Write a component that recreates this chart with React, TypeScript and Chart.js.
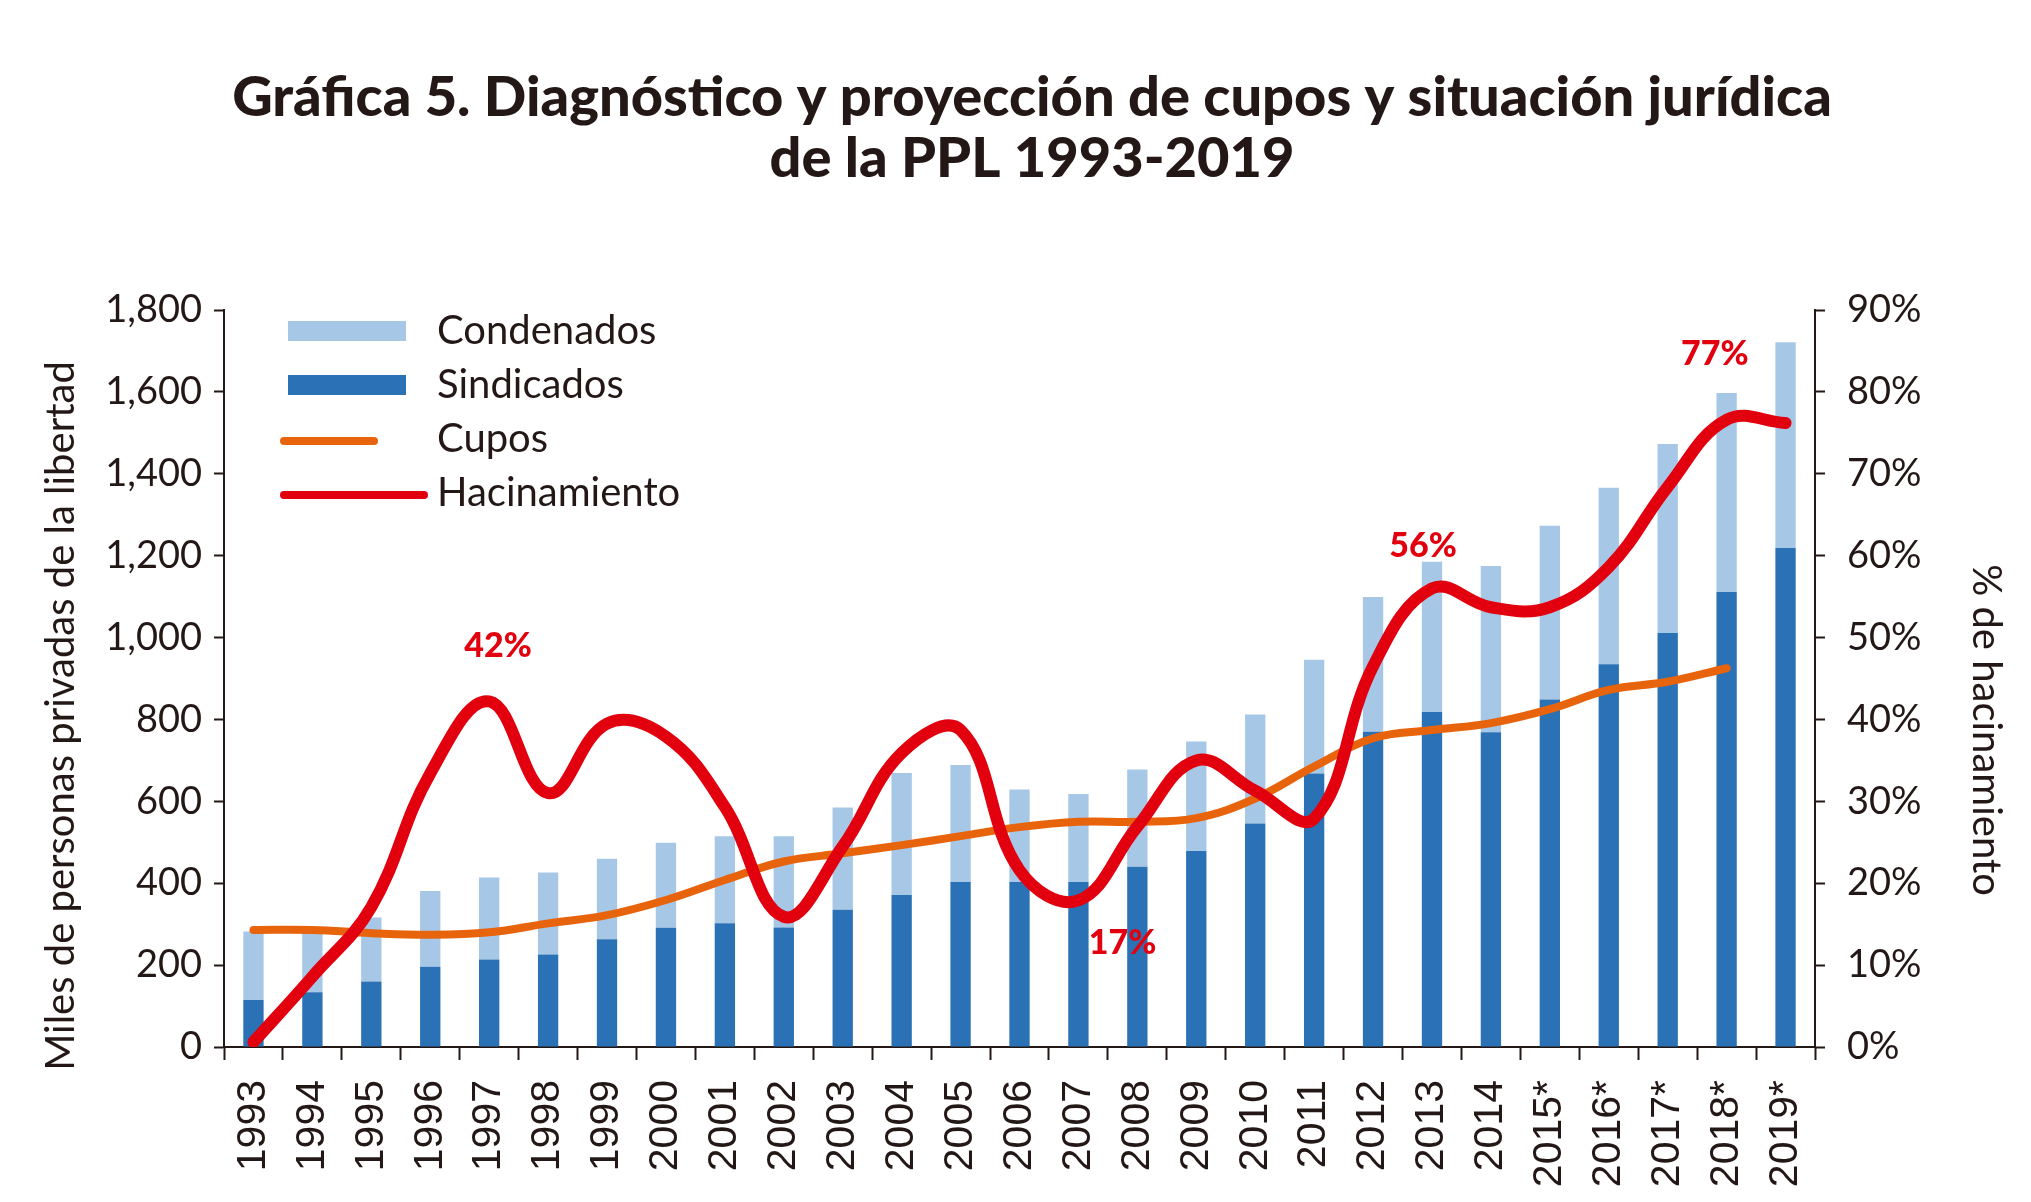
import React, { useEffect, useRef } from "react";
import { Chart, registerables } from "chart.js";
Chart.register(...registerables);

const years = [
  "1993", "1994", "1995", "1996", "1997", "1998", "1999", "2000", "2001", "2002",
  "2003", "2004", "2005", "2006", "2007", "2008", "2009", "2010", "2011", "2012",
  "2013", "2014", "2015*", "2016*", "2017*", "2018*", "2019*",
];
const sindicados = [
  115, 134, 160, 196, 214, 226, 263, 291, 302, 292,
  335, 371, 403, 403, 403, 440, 479, 546, 668, 770,
  818, 769, 849, 935, 1011, 1111, 1219,
];
const condenados = [
  167, 156, 156, 185, 200, 200, 197, 208, 213, 223,
  250, 298, 286, 226, 215, 238, 267, 266, 278, 329,
  367, 406, 424, 431, 462, 486, 502,
];
const cupos = [
  286, 286, 278, 274, 280, 302, 322, 359, 408, 453,
  473, 493, 515, 537, 550, 550, 559, 607, 685, 754,
  774, 791, 825, 872, 892, 925, null,
];
const hacinamiento = [
  0.6, 8.6, 17.1, 33.4, 42.2, 31, 39.5, 37.9, 29.3, 15.9,
  24.5, 35.9, 38.7, 21.6, 17.9, 26.9, 35, 31.3, 27.9, 46.5,
  56, 53.7, 53.7, 58.6, 68.4, 76.6, 76.2,
];

const titleLines = [
  "Gráfica 5. Diagnóstico y proyección de cupos y situación jurídica",
  "de la PPL 1993-2019",
];
const legendLabels = ["Condenados", "Sindicados", "Cupos", "Hacinamiento"];
const calloutTexts = ["42%", "56%", "17%", "77%"];
const calloutIndex = [4.15, 19.85, 14.75, 24.8];
const calloutValue = [49, 61.2, 12.7, 84.6];

const leftTitle = "Miles de personas privadas de la libertad";
const rightTitle = "% de hacinamiento";

const TEXT = "#231815";
const LIGHT = "#a7c7e7";
const DARK = "#2a72b5";
const ORANGE = "#e8640c";
const RED = "#e2000f";
const FONT = "Lato";

const overlayPlugin = {
  id: "overlay",
  afterDatasetsDraw(chart: any) {
    const ctx = chart.ctx;
    const x = chart.scales.x;
    const y1 = chart.scales.y1;
    ctx.save();
    ctx.fillStyle = RED;
    ctx.font = `900 34px ${FONT}`;
    ctx.textAlign = "center";
    ctx.textBaseline = "middle";
    calloutTexts.forEach((t, i) => {
      ctx.fillText(t, x.getPixelForValue(calloutIndex[i]), y1.getPixelForValue(calloutValue[i]));
    });
    ctx.restore();
  },
  afterDraw(chart: any) {
    const ctx = chart.ctx;
    ctx.save();
    // title
    ctx.fillStyle = TEXT;
    ctx.font = `900 56px ${FONT}`;
    ctx.textAlign = "center";
    ctx.textBaseline = "middle";
    ctx.fillText(titleLines[0], 1032, 98);
    ctx.fillText(titleLines[1], 1032, 159);
    // axis titles
    ctx.font = `40px ${FONT}`;
    ctx.save();
    ctx.translate(61, 716);
    ctx.rotate(-Math.PI / 2);
    ctx.fillText(leftTitle, 0, 0);
    ctx.restore();
    ctx.save();
    ctx.translate(1986, 730);
    ctx.rotate(Math.PI / 2);
    ctx.fillText(rightTitle, 0, 0);
    ctx.restore();
    // legend
    const rows = [331, 385, 439, 493];
    ctx.fillStyle = LIGHT;
    ctx.fillRect(288, rows[0] - 10, 118, 20);
    ctx.fillStyle = DARK;
    ctx.fillRect(288, rows[1] - 10, 118, 20);
    ctx.lineCap = "round";
    ctx.lineWidth = 8;
    ctx.strokeStyle = ORANGE;
    ctx.beginPath();
    ctx.moveTo(284, rows[2] + 2);
    ctx.lineTo(374, rows[2] + 2);
    ctx.stroke();
    ctx.strokeStyle = RED;
    ctx.beginPath();
    ctx.moveTo(284, rows[3] + 2);
    ctx.lineTo(424, rows[3] + 2);
    ctx.stroke();
    ctx.fillStyle = TEXT;
    ctx.font = `40px ${FONT}`;
    ctx.textAlign = "left";
    ctx.textBaseline = "middle";
    legendLabels.forEach((l, i) => ctx.fillText(l, 437, rows[i]));
    ctx.restore();
  },
};

export default function App() {
  const ref = useRef<HTMLCanvasElement | null>(null);
  useEffect(() => {
    if (!ref.current) return;
    const chart = new Chart(ref.current, {
      type: "bar",
      data: {
        labels: years,
        datasets: [
          {
            type: "line",
            label: "Hacinamiento",
            data: hacinamiento,
            yAxisID: "y1",
            borderColor: RED,
            borderWidth: 12,
            pointRadius: 0,
            tension: 0.4,
            borderCapStyle: "round",
            borderJoinStyle: "round",
            order: 0,
          } as any,
          {
            type: "line",
            label: "Cupos",
            data: cupos,
            yAxisID: "y",
            stack: "cupos",
            borderColor: ORANGE,
            borderWidth: 8,
            pointRadius: 0,
            tension: 0.4,
            borderCapStyle: "round",
            order: 1,
          } as any,
          {
            label: "Sindicados",
            data: sindicados,
            backgroundColor: DARK,
            yAxisID: "y",
            stack: "bars",
            barPercentage: 0.345,
            categoryPercentage: 1,
            order: 2,
          },
          {
            label: "Condenados",
            data: condenados,
            backgroundColor: LIGHT,
            yAxisID: "y",
            stack: "bars",
            barPercentage: 0.345,
            categoryPercentage: 1,
            order: 3,
          },
        ],
      },
      options: {
        animation: false,
        responsive: true,
        maintainAspectRatio: false,
        layout: { padding: { top: 310, left: 0, right: 0, bottom: 0 } },
        plugins: { legend: { display: false }, title: { display: false }, tooltip: { enabled: false } },
        scales: {
          x: {
            stacked: true,
            afterFit(s: any) { s.height = 155; },
            grid: { offset: true, drawOnChartArea: false, drawTicks: true, tickLength: 13, color: TEXT, tickWidth: 2 },
            border: { display: true, color: TEXT, width: 2 },
            ticks: {
              color: TEXT,
              font: { family: "Liberation Sans", size: 41 },
              maxRotation: 90,
              minRotation: 90,
              padding: 20,
              autoSkip: false,
            },
          },
          y: {
            stacked: true,
            position: "left",
            min: 0,
            max: 1800,
            afterFit(s: any) { s.width = 224; },
            ticks: {
              stepSize: 200,
              color: TEXT,
              font: { family: FONT, size: 38 },
              padding: 12,
              callback: (v: any) => Number(v).toLocaleString("en-US"),
            },
            grid: { drawOnChartArea: false, tickLength: 10, color: TEXT, tickWidth: 2 },
            border: { display: true, color: TEXT, width: 2 },
          },
          y1: {
            position: "right",
            min: 0,
            max: 90,
            afterFit(s: any) { s.width = 216; },
            ticks: {
              stepSize: 10,
              color: TEXT,
              font: { family: FONT, size: 38 },
              padding: 22,
              callback: (v: any) => `${v}%`,
            },
            grid: { drawOnChartArea: false, tickLength: 10, color: TEXT, tickWidth: 2 },
            border: { display: true, color: TEXT, width: 2 },
          },
        },
      },
      plugins: [overlayPlugin],
    });
    return () => chart.destroy();
  }, []);
  return (
    <div style={{ position: "fixed", left: 0, top: 0, width: 2031, height: 1202, background: "#fff" }}>
      <canvas ref={ref} />
    </div>
  );
}
